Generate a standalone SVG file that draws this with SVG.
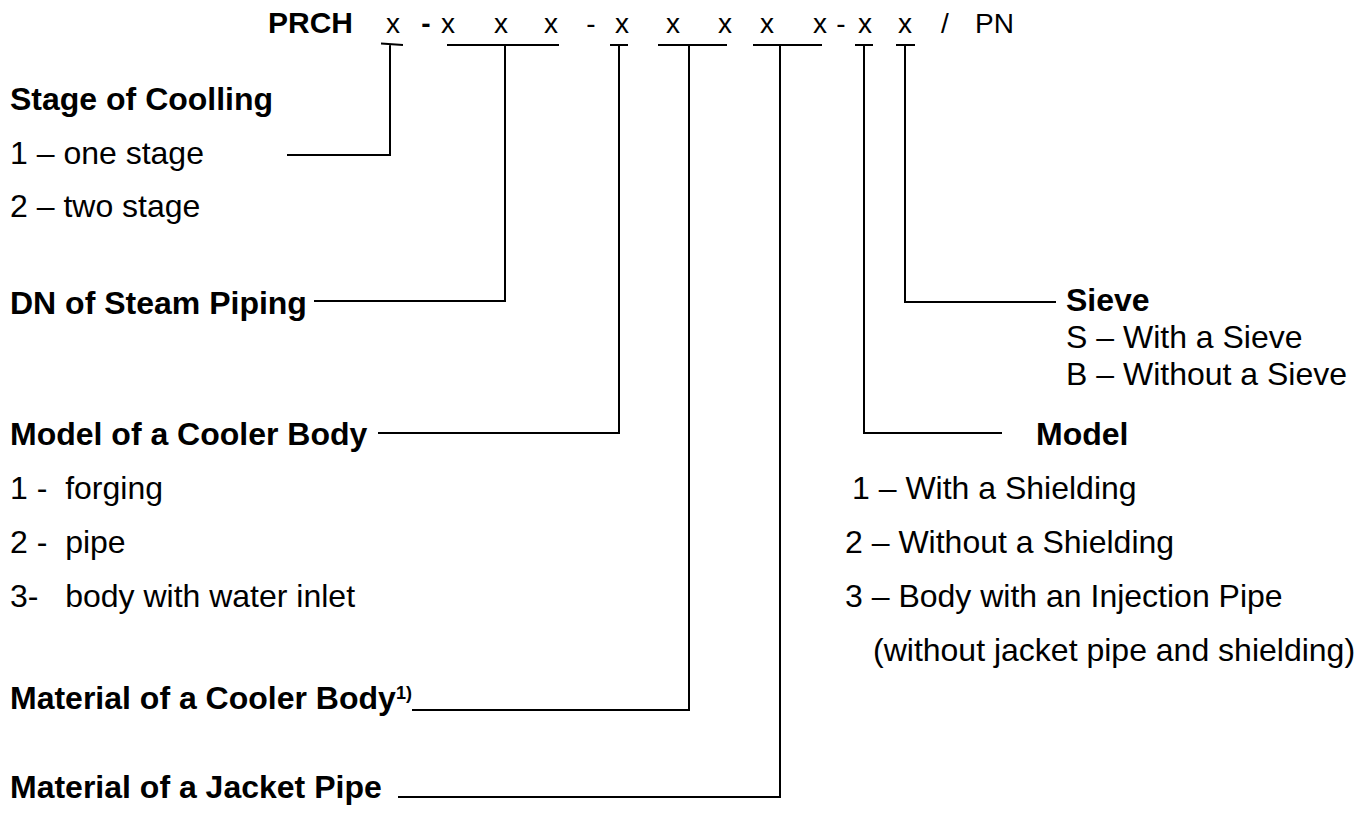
<svg xmlns="http://www.w3.org/2000/svg" width="1370" height="814" viewBox="0 0 1370 814">
  <style>
    text { font-family: "Liberation Sans", Arial, sans-serif; fill: #000; }
    .code { font-size: 28px; text-anchor: middle; }
    .head { font-size: 32px; font-weight: bold; }
    .item { font-size: 32px; }
    .sup { font-size: 18px; font-weight: bold; }
    .wire { fill: none; stroke: #000; stroke-width: 2; }
  </style>
  <rect width="1370" height="814" fill="#fff"/>

  <!-- type designation code -->
  <g id="code">
    <text x="268" y="33" font-size="30" font-weight="bold">PRCH</text>
    <text class="code" x="393" y="33">x</text>
    <text class="code" x="426" y="33" font-weight="bold">-</text>
    <text class="code" x="448" y="33">x</text>
    <text class="code" x="501" y="33">x</text>
    <text class="code" x="551" y="33">x</text>
    <text class="code" x="591" y="33">-</text>
    <text class="code" x="622" y="33">x</text>
    <text class="code" x="673" y="33">x</text>
    <text class="code" x="725" y="33">x</text>
    <text class="code" x="767" y="33">x</text>
    <text class="code" x="820" y="33">x</text>
    <text class="code" x="841" y="33">-</text>
    <text class="code" x="865" y="33">x</text>
    <text class="code" x="905" y="33">x</text>
    <text class="code" x="945" y="33">/</text>
    <text x="975" y="33" font-size="28">PN</text>
  </g>

  <!-- leader lines from each code position -->
  <g id="connectors">
    <path class="wire" d="M381 43.5 L403 45 M390 44 V155 H287"/>
    <path class="wire" d="M447 45 H559 M505 45 V301 H314"/>
    <path class="wire" d="M610 45 H628 M619 45 V433 H378"/>
    <path class="wire" d="M658 45 H727 M689 45 V710 H412"/>
    <path class="wire" d="M753 45 H822 M780 45 V797 H398"/>
    <path class="wire" d="M855 45 H873 M864 45 V433 H1002"/>
    <path class="wire" d="M896 45 H915 M905 45 V302 H1056"/>
  </g>

  <g id="stage">
    <text class="head" x="10" y="110">Stage of Coolling</text>
    <text class="item" x="10" y="164">1 – one stage</text>
    <text class="item" x="10" y="217">2 – two stage</text>
  </g>

  <g id="dn">
    <text class="head" x="10" y="314">DN of Steam Piping</text>
  </g>

  <g id="body-model">
    <text class="head" x="10" y="445">Model of a Cooler Body</text>
    <text class="item" x="10" y="499" xml:space="preserve">1 -  forging</text>
    <text class="item" x="10" y="553" xml:space="preserve">2 -  pipe</text>
    <text class="item" x="10" y="607" xml:space="preserve">3-   body with water inlet</text>
  </g>

  <g id="body-material">
    <text class="head" x="10" y="709">Material of a Cooler Body</text>
    <text class="sup" x="396" y="699">1)</text>
  </g>

  <g id="jacket-material">
    <text class="head" x="10" y="798">Material of a Jacket Pipe</text>
  </g>

  <g id="sieve">
    <text class="head" x="1066" y="311">Sieve</text>
    <text class="item" x="1066" y="348">S – With a Sieve</text>
    <text class="item" x="1066" y="385">B – Without a Sieve</text>
  </g>

  <g id="model">
    <text class="head" x="1036" y="445">Model</text>
    <text class="item" x="852" y="499">1 – With a Shielding</text>
    <text class="item" x="845" y="553">2 – Without a Shielding</text>
    <text class="item" x="845" y="607">3 – Body with an Injection Pipe</text>
    <text class="item" x="873" y="661">(without jacket pipe and shielding)</text>
  </g>
</svg>
